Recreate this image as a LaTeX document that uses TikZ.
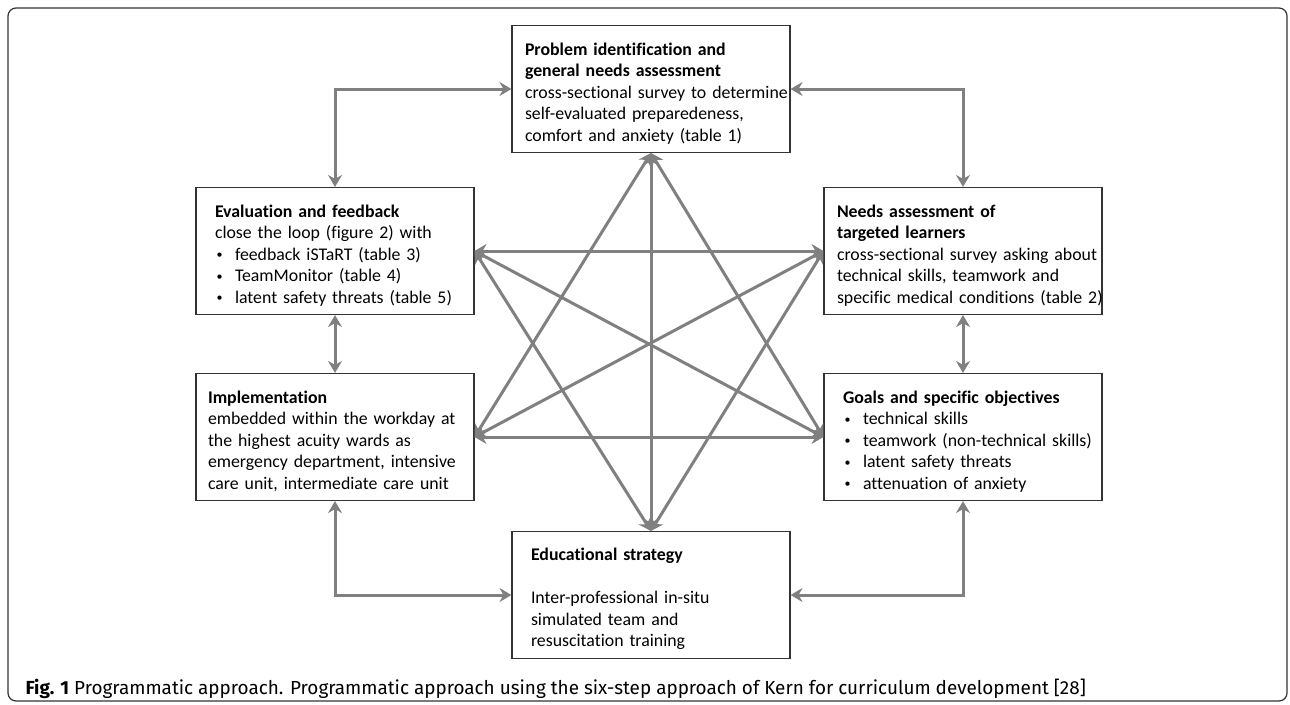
\documentclass[tikz,border=0pt]{standalone}
\usepackage{fontspec}
\setmainfont{Carlito}[Ligatures=CommonOff]
\newfontfamily\capfont{Fira Sans}[Ligatures=CommonOff]
\usetikzlibrary{arrows.meta}
\tikzset{
	stepbox/.style={draw=black!80, line width=1.1pt, minimum width=278pt, minimum height=127pt,
		inner xsep=0pt, inner ysep=0pt, text width=278pt, align=left,
		font=\fontsize{17.8}{21.5}\selectfont, execute at begin node={\leftskip=#1\relax\rule{0pt}{21pt}}},
	link/.style={draw=black!50, line width=3pt, >={Stealth[length=12pt,width=14pt,inset=4pt]}, <->},
}
\newcommand{\bul}{\makebox[20pt][l]{\hspace{1.5pt}{\fontsize{12}{12}\selectfont\raisebox{1.5pt}{\textbullet}}}}

\begin{document}
\begin{tikzpicture}[x=1pt, y=-1pt]
			%%%%% START %%%%%
			
			\useasboundingbox (0, 0) rectangle (1290, 704);
			\draw[rounded corners=8pt, line width=1.2pt, color=black!80] (8, 8) rectangle (1287, 701);
			
			\node[stepbox=13pt] (top) at (651, 89) {\textbf{Problem identification and}\\ \textbf{general needs assessment}\\ \mbox{cross-sectional survey to determine}\\ self-evaluated preparedeness,\\ comfort and anxiety (table 1)};
			
			\node[stepbox=19pt] (eval) at (335, 251) {\textbf{Evaluation and feedback}\\ close the loop (figure 2) with\\ \bul feedback iSTaRT (table 3)\\ \bul TeamMonitor (table 4)\\ \bul latent safety threats (table 5)};
			
			\node[stepbox=13pt] (needs) at (963, 251) {\textbf{Needs assessment of}\\ \textbf{targeted learners}\\ \mbox{cross-sectional survey asking about}\\ technical skills, teamwork and\\ \mbox{specific medical conditions (table 2)}};
			
			\node[stepbox=12pt] (impl) at (335, 437) {\textbf{Implementation}\\ embedded within the workday at\\ the highest acuity wards as\\ \mbox{emergency department, intensive}\\ care unit, intermediate care unit};
			
			\node[stepbox=19pt] (goals) at (963, 437) {\textbf{Goals and specific objectives}\\ \bul technical skills\\ \bul \mbox{teamwork (non-technical skills)}\\ \bul latent safety threats\\ \bul attenuation of anxiety};
			
			\node[stepbox=19pt] (strategy) at (651, 595) {\textbf{Educational strategy}\\[21.5pt] Inter-professional in-situ\\ simulated team and\\ resuscitation training};
			
			% outer cycle
			\draw[link] (top.west) -| (eval.north);
			\draw[link] (top.east) -| (needs.north);
			\draw[link] (eval.south) -- (impl.north);
			\draw[link] (needs.south) -- (goals.north);
			\draw[link] (strategy.west) -| (impl.south);
			\draw[link] (strategy.east) -| (goals.south);
			
			% star in the middle
			\foreach \a/\b in {top.south/strategy.north, top.south/impl.east, top.south/goals.west,
				strategy.north/eval.east, strategy.north/needs.west, eval.east/needs.west,
				impl.east/goals.west, eval.east/goals.west, impl.east/needs.west}
				\draw[link] (\a) -- (\b);
			
			\node[anchor=base west, font=\capfont\fontsize{18.9}{22}\selectfont] (caption) at (22, 694) {\textbf{Fig. 1} Programmatic approach. Programmatic approach using the six-step approach of Kern for curriculum development [28]};
			
			%%%%% END %%%%%
\end{tikzpicture}
\end{document}
